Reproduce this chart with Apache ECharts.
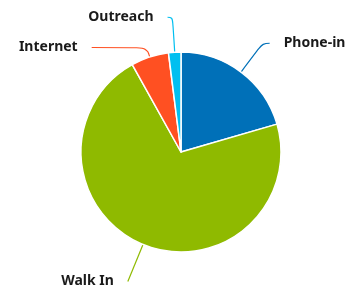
<!DOCTYPE html>
<html>
<head>
<meta charset="utf-8">
<script src="https://cdn.jsdelivr.net/npm/echarts@6/dist/echarts.min.js"></script>
<style>
  html, body { margin: 0; padding: 0; background: #fff; }
  #chart { width: 364px; height: 292px; }
</style>
</head>
<body>
<div id="chart"></div>
<script>
var categories = ['Phone-in', 'Walk In', 'Internet', 'Outreach'];
var values = [20.5, 71.4, 6.1, 2.0];
var colors = ['#0070b8', '#8fba00', '#ff5022', '#00bff0'];
// leader line lengths per slice: [first segment, second segment]
var lineLengths = [[36, 7], [40, 0], [10, 55], [35, 5]];

var data = [];
for (var i = 0; i < categories.length; i++) {
    data.push({
        name: categories[i],
        value: values[i],
        itemStyle: { color: colors[i] },
        labelLine: {
            length: lineLengths[i][0],
            length2: lineLengths[i][1],
            lineStyle: { color: colors[i] }
        }
    });
}

var chart = echarts.init(document.getElementById('chart'));
chart.setOption({
    animation: false,
    series: [
        {
            type: 'pie',
            center: [181, 152],
            radius: 100,
            startAngle: 90,
            clockwise: true,
            avoidLabelOverlap: false,
            data: data,
            itemStyle: {
                borderColor: '#fff',
                borderWidth: 1.5
            },
            label: {
                show: true,
                formatter: '{b}',
                color: '#1a1a1a',
                fontFamily: 'Noto Sans',
                fontWeight: 'bold',
                fontSize: 14,
                distanceToLabelLine: 14
            },
            labelLine: {
                show: true,
                smooth: 0.4,
                lineStyle: { width: 1.2 }
            }
        }
    ]
});
</script>
</body>
</html>
